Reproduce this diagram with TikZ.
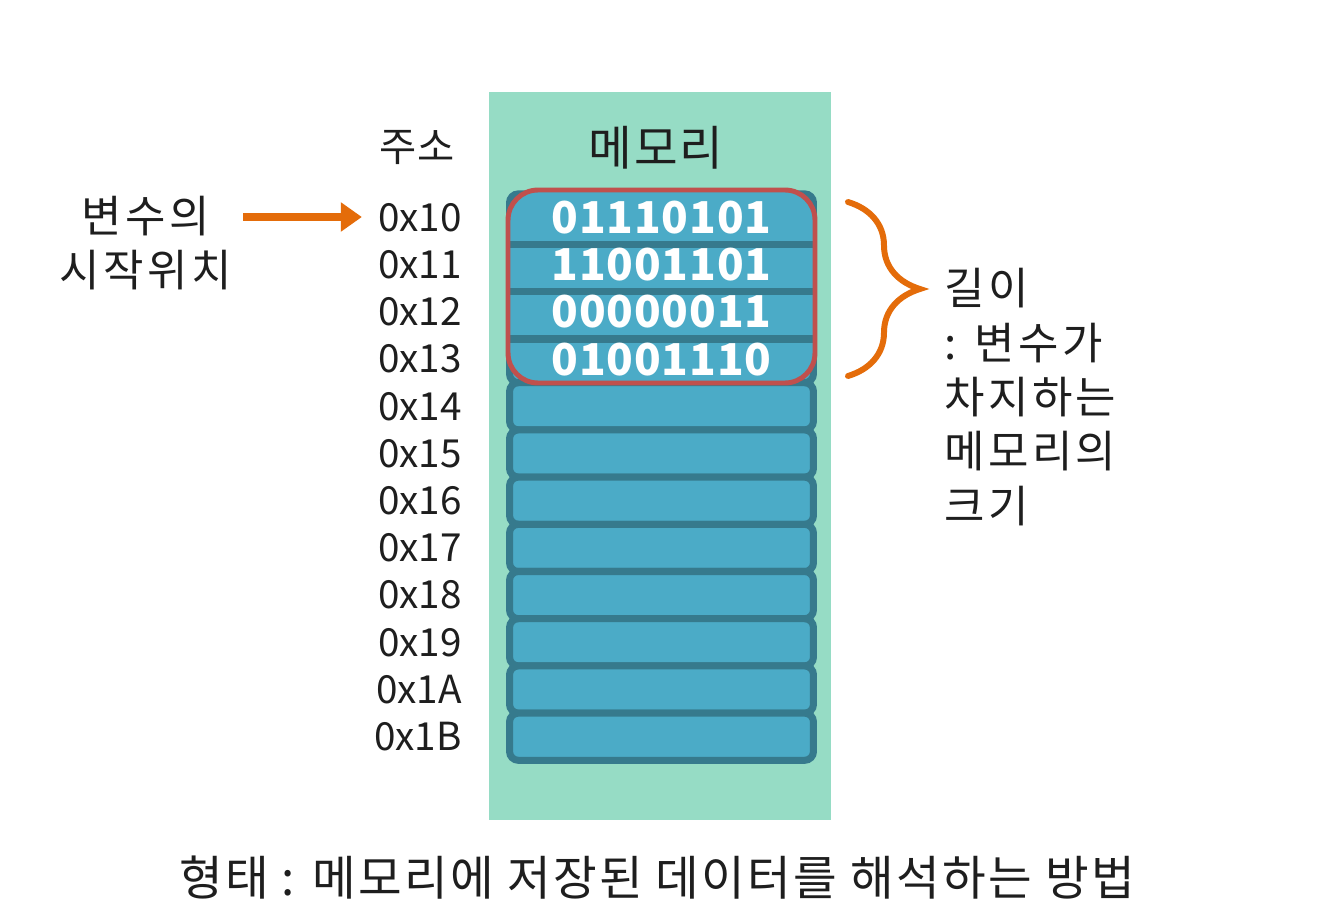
\documentclass[tikz,border=0pt]{standalone}
\usepackage{fontspec}
\setmainfont{Noto Sans CJK KR}
\usetikzlibrary{positioning, arrows.meta, decorations.pathreplacing}
\definecolor{memgreen}{HTML}{96DCC5}
\definecolor{celllight}{HTML}{4BABC7}
\definecolor{celldark}{HTML}{367A8D}
\definecolor{frame}{HTML}{C0504D}
\definecolor{pointer}{HTML}{E46C0A}
\definecolor{ink}{HTML}{1E1E1E}

\begin{document}
\begin{tikzpicture}[
    x=0.02cm, y=-0.02cm,
    cell/.style={draw=celldark, fill=celllight, line width=4pt, rounded corners=5pt, minimum width=6.08cm, minimum height=0.944cm, inner sep=0pt},
    addr/.style={anchor=east, inner sep=0pt, text=ink, font=\fontsize{22}{26}\selectfont},
    bits/.style={text=white, font=\fontsize{25}{30}\selectfont\bfseries\addfontfeatures{LetterSpace=2}},
    note/.style={text=ink, align=left, font=\fontsize{25}{31}\selectfont\addfontfeatures{LetterSpace=8}},
    head/.style={text=ink, font=\fontsize{23}{28}\selectfont}
]
    % Canvas
    \useasboundingbox (0,0) rectangle (1334,915);
    \fill[white] (0,0) rectangle (1334,915);

    % Memory column
    \node[fill=memgreen, minimum width=6.84cm, minimum height=14.56cm, inner sep=0pt] (memory) at (660,456) {};
    \node[head, font=\fontsize{27}{30}\selectfont\addfontfeatures{LetterSpace=4}] (memtitle) at (656,148) {메모리};
    \node[head] (addrtitle) at (417,148) {주소};

    % Cells and addresses
    \foreach \i/\a in {0/10,1/11,2/12,3/13,4/14,5/15,6/16,7/17,8/18,9/19,10/1A,11/1B} {
        \node[cell] (cell\i) at (661.5,{217.5+47.2*\i}) {};
        \node[addr] (addr\i) at (462,{217.5+47.2*\i}) {0x\a};
    }

    % Variable block (cells 0x10 to 0x13)
    \node[fill=celllight, rounded corners=0.6cm, minimum width=6.14cm, minimum height=3.86cm, inner sep=0pt] (varfill) at (661.5,286.5) {};
    \foreach \i in {0,1,2}
        \draw[celldark, line width=4pt] (cell\i.south -| varfill.west) -- (cell\i.south -| varfill.east);
    \foreach \i/\b in {0/01110101,1/11001101,2/00000011,3/01001110}
        \node[bits] (byte\i) at (cell\i) {\b};
    \node[draw=frame, line width=2.8pt, rounded corners=0.6cm, minimum width=6.14cm, minimum height=3.86cm, inner sep=0pt] (var) at (varfill) {};

    % Start position
    \node[note, align=center] (start) at (146,243) {변수의\\시작위치};
    \draw[pointer, line width=4pt, shorten >=9pt, -{Triangle[length=12pt, width=16pt]}] (243,217) coordinate (arrowtail) -- (arrowtail -| addr0.west) coordinate (arrowtip);

    % Length
    \draw[pointer, line width=3.4pt, line cap=round, decorate, decoration={brace, amplitude=1.44cm}] (848,202) coordinate (bracetop) -- (848,376) coordinate (bracebot);
    \node[note, anchor=north west] (length) at (938,262) {길이\\: 변수가\\차지하는\\메모리의\\크기};

    % Caption
    \node[head, font=\fontsize{27}{30}\selectfont\addfontfeatures{LetterSpace=5}] (caption) at (657,878) {형태 : 메모리에 저장된 데이터를 해석하는 방법};
\end{tikzpicture}
\end{document}
